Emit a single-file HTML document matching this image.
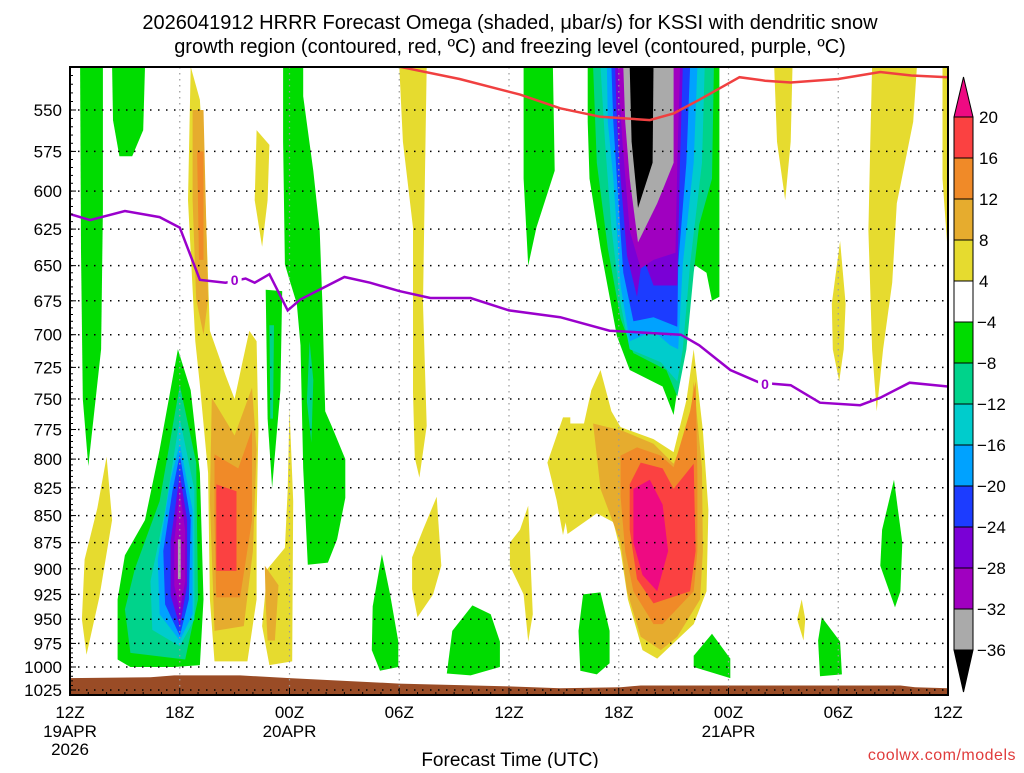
<!DOCTYPE html>
<html><head><meta charset="utf-8"><style>
body{margin:0;background:#fff;width:1024px;height:768px;overflow:hidden}
svg text{font-family:"Liberation Sans",sans-serif}
</style></head><body>
<svg id="chart" width="1024" height="768" xmlns="http://www.w3.org/2000/svg">
<text x="510" y="29" text-anchor="middle" font-size="20">2026041912 HRRR Forecast Omega (shaded, μbar/s) for KSSI with dendritic snow</text>
<text x="510" y="53" text-anchor="middle" font-size="20">growth region (contoured, red, ºC) and freezing level (contoured, purple, ºC)</text>
<g id="fills"></g>
<g id="grid"></g>
<g id="lines"></g>
<g id="axes"></g>
<g id="cbar"></g>
<text x="510" y="766" text-anchor="middle" font-size="19">Forecast Time (UTC)</text>
<text x="1016" y="760" text-anchor="end" font-size="16" fill="#e03c3c" letter-spacing="0.5">coolwx.com/models</text>
</svg>
<script>
const NS="http://www.w3.org/2000/svg";
const levels=[550,575,600,625,650,675,700,725,750,775,800,825,850,875,900,925,950,975,1000,1025];
const timeLabels=["12Z","18Z","00Z","06Z","12Z","18Z","00Z","06Z","12Z"];
const dateLabels={0:["19APR","2026"],12:["20APR"],36:["21APR"]};
const freezeHours=[0,1.1,3,4.9,6,7.1,8.5,9.6,10.1,10.9,11.9,12.6,15,16.4,18,19.7,21.9,24,26.8,29.5,33.4,34.4,36.1,37.7,39.4,41,43.2,44.3,45.9,48];
const freezeP=[615,619,613,617,624,660,662,659,662,656,682,674,658,662,668,673,673,682,687,697,700,708,727,737,739,753,755,749,737,740];
const dgzHours=[18,21.3,24.6,26.8,29,31.7,33,34.4,36.6,38,39.4,42,44.3,46,48];
const dgzP=[525,532,541,549,554,556,552,544,531,533,534,532,528,530,531];
const sfcHours=[0,4.4,5.7,9.3,12,18,24,26.8,30.1,31.2,45.4,46.2,48];
const sfcP=[1012,1011,1009,1009,1012,1018,1021,1023,1022,1020,1020,1022,1023];
const cbarLabels=["20","16","12","8","4","−4","−8","−12","−16","−20","−24","−28","−32","−36"];
const cbarColors=["#fb4141","#f08a28","#e6ac2e","#e6db2f","#ffffff","#00dc00","#00d38b","#00cccc","#00a2ff","#1c3cff","#7a00d6","#a000c0","#aaaaaa"];
const C={Y:"#e6db2f",Gd:"#e6ac2e",O:"#f08a28",R:"#fb4141",M:"#ee0a82",G:"#00dc00",T:"#00d38b",Cy:"#00cccc",B:"#00a2ff",DB:"#1c3cff",P:"#7a00d6",PM:"#a000c0",Gr:"#aaaaaa",K:"#000000"};
const blobs=[
["G",[[0.55,525],[1.8,525],[1.8,612],[1.7,711],[1.0,806],[0.7,750],[0.6,640]]],
["G",[[2.3,525],[4.1,525],[4.0,562],[3.4,578],[2.7,578],[2.35,556]]],
["Y",[[2.0,798],[2.3,854],[1.6,928],[0.9,987],[0.65,950],[0.8,891],[1.5,843]]],
["G",[[5.9,711],[6.6,743],[7.1,812],[7.3,930],[7.1,998],[5.7,1000],[3.3,1000],[2.6,992],[2.6,930],[3.0,887],[4.1,854],[4.9,792]]],
["T",[[6,739],[6.9,803],[7.0,930],[6.3,992],[3.3,985],[3.0,940],[3.55,900],[4.9,837]]],
["Cy",[[6,766],[6.8,827],[6.8,950],[6,978],[4.5,961],[4.4,912],[5.2,845]]],
["B",[[6,787],[6.7,845],[6.7,945],[6,972],[4.9,945],[4.8,891],[5.5,818]]],
["DB",[[6,796],[6.6,854],[6.5,930],[6,967],[5.2,935],[5.1,883],[5.6,828]]],
["P",[[6,813],[6.4,854],[6.4,916],[6,957],[5.5,926],[5.5,874]]],
["PM",[[6,827],[6.3,864],[6.3,912],[6,942],[5.7,916],[5.7,874]]],
["Gr",[[5.9,872],[6.05,872],[6.05,910],[5.9,910]]],
["Y",[[6.6,525],[7.1,544],[7.4,606],[7.65,697],[8.5,731],[9.0,750],[9.4,723],[9.8,697],[10.2,705],[10.3,775],[10.2,854],[10.2,930],[9.7,994],[7.9,994],[7.65,930],[7.55,812],[7.1,739],[6.85,705],[6.45,606]]],
["Gd",[[6.7,550],[7.3,550],[7.55,674],[7.3,700],[6.9,674],[6.7,606]]],
["O",[[6.95,575],[7.3,575],[7.3,646],[7.05,646]]],
["Gd",[[7.75,749],[9.0,780],[9.95,741],[10.2,792],[10.0,883],[9.5,957],[7.9,962],[7.65,837]]],
["O",[[7.9,796],[9.2,808],[9.95,775],[9.95,854],[9.3,928],[8.0,928],[7.9,854]]],
["R",[[8.0,822],[9.1,828],[9.1,902],[8.0,902]]],
["Y",[[10.2,562],[10.9,571],[10.8,606],[10.5,637],[10.1,606]]],
["G",[[10.7,667],[11.6,668],[11.5,743],[11.05,825],[10.8,766]]],
["T",[[10.9,693],[11.15,693],[11.1,766],[10.95,766]]],
["Y",[[12,758],[12.2,837],[12.15,994],[10.9,998],[10.5,957],[10.8,900],[11.75,880],[11.9,827]]],
["Gd",[[10.65,897],[11.4,916],[11.2,972],[10.8,972],[10.7,935]]],
["G",[[11.65,525],[12.75,525],[12.75,542],[13.3,587],[13.65,626],[13.8,677],[13.95,760],[14.3,772],[15.05,800],[15.05,834],[14.6,872],[14.1,894],[13.0,896],[12.75,808],[12.6,708],[12.4,677],[12.0,660],[11.75,649],[11.65,569]]],
["T",[[13.1,705],[13.3,735],[13.2,786],[12.95,752]]],
["Y",[[18,525],[19.5,525],[19.4,592],[19.3,677],[19.5,772],[19.1,816],[18.85,799],[18.75,745],[18.75,624],[18.2,569]]],
["Y",[[20.05,833],[20.3,897],[19.85,925],[19.0,948],[18.7,920],[18.7,889],[19.3,863]]],
["G",[[17.05,886],[17.5,925],[17.95,973],[17.95,1000],[16.95,1004],[16.5,982],[16.55,937]]],
["G",[[22,936],[23,945],[23.5,973],[23.5,1000],[21.9,1009],[20.6,1007],[20.9,962]]],
["Y",[[25.05,841],[25.3,945],[25.05,973],[24.8,925],[24.05,897],[24.05,875],[24.6,863]]],
["G",[[24.8,525],[26.4,525],[26.5,587],[25.5,624],[25.05,650],[24.8,592]]],
["Y",[[26.95,765],[27.35,765],[27.35,836],[26.95,868],[26.6,836],[26.1,803]]],
["Y",[[29.0,727],[29.6,760],[30.1,773],[31.9,783],[33.0,794],[33.7,751],[34.1,711],[34.6,776],[34.9,845],[34.8,922],[34.1,955],[32.1,991],[31.3,982],[30.5,930],[30.1,883],[29.7,856],[28.8,848],[27.2,867],[26.8,826],[26.2,803],[27.0,770],[28.1,770],[28.5,743]]],
["Gd",[[28.6,770],[30.2,776],[31.9,787],[33.0,804],[33.9,770],[34.1,736],[34.55,808],[34.6,883],[34.45,930],[33.2,968],[32.3,982],[31.2,968],[30.45,922],[30.1,875],[29.0,826]]],
["O",[[30.1,797],[31.0,790],[32.3,797],[33.0,807],[33.9,760],[34.2,736],[34.3,813],[34.3,883],[34.1,922],[32.4,955],[31.9,955],[30.8,922],[30.35,883],[30.1,833]]],
["R",[[30.6,822],[31.2,803],[32.4,808],[33.0,826],[34.1,804],[34.2,883],[33.9,922],[31.9,934],[31.0,910],[30.6,863]]],
["M",[[30.8,826],[31.7,818],[32.4,840],[32.7,883],[32.1,922],[31.3,906],[30.8,875]]],
["G",[[28.3,525],[35.5,525],[35.5,672],[35.1,675],[34.8,655],[34.1,649],[33.7,682],[33.5,714],[33.0,763],[32.4,740],[30.6,727],[29.9,701],[29.0,638],[28.4,592],[28.3,557]]],
["T",[[28.6,525],[35.2,525],[35.1,592],[34.4,622],[34.1,655],[33.7,711],[33.2,748],[32.6,727],[30.8,714],[30.1,688],[29.4,638],[28.8,582]]],
["Cy",[[29.0,525],[34.7,525],[34.55,582],[33.9,649],[33.5,711],[33.2,736],[32.3,721],[30.6,711],[30.1,677],[29.6,624],[29.25,569]]],
["B",[[29.35,525],[34.3,525],[34.1,582],[33.5,649],[33.25,711],[32.8,708],[31.9,697],[30.6,705],[30.1,664],[29.7,592],[29.4,557]]],
["DB",[[29.6,525],[33.9,525],[33.7,582],[33.25,649],[33.2,694],[31.9,687],[30.8,690],[30.25,655],[29.9,592],[29.7,557]]],
["P",[[29.8,525],[33.5,525],[33.35,582],[33.2,664],[32.6,664],[31.9,664],[31.3,643],[31.0,672],[30.45,643],[30.1,592],[29.9,557]]],
["PM",[[29.95,525],[33.35,525],[33.2,582],[33.1,641],[31.9,646],[31.2,652],[30.6,626],[30.2,569]]],
["Gr",[[30.25,525],[33.0,525],[33.0,582],[32.1,608],[31.05,634],[30.6,592],[30.35,557]]],
["K",[[30.6,525],[31.9,525],[31.85,582],[31.05,611],[30.7,569]]],
["G",[[28.05,925],[29.0,923],[29.5,962],[29.5,996],[28.8,1008],[27.9,1004],[27.8,962]]],
["G",[[35.1,965],[36.1,991],[36.1,1012],[34.1,1000],[34.1,988]]],
["Y",[[38.5,525],[39.5,525],[39.4,569],[39.1,606],[38.65,569]]],
["Y",[[40.0,930],[40.2,950],[40.1,972],[39.75,950]]],
["G",[[41.1,948],[42.1,973],[42.2,1008],[41.0,1010],[40.9,972]]],
["Y",[[42.1,633],[42.4,677],[42.3,711],[42.05,736],[41.7,711],[41.65,677]]],
["G",[[45.05,818],[45.5,875],[45.4,922],[45.1,938],[44.3,897],[44.4,863]]],
["Y",[[43.85,525],[46.3,525],[46.1,557],[45.2,608],[44.95,662],[44.45,711],[44.1,760],[43.85,711],[43.65,626],[43.75,569]]],
["Y",[[47.7,525],[48,525],[48,643],[47.9,626],[47.7,592]]]
];
const X0=70,X1=948,Y0=67,Y1=695;
function xs(h){return X0+(X1-X0)*h/48;}
function ys(p){return 110+931.7*Math.log(p/550);}
function mk(tag,attrs,parent){const e=document.createElementNS(NS,tag);for(const k in attrs)e.setAttribute(k,attrs[k]);parent.appendChild(e);return e;}
const fills=document.getElementById('fills');
const clip=mk('clipPath',{id:'pc'},document.getElementById('chart'));
mk('rect',{x:X0,y:Y0,width:X1-X0,height:Y1-Y0},clip);
fills.setAttribute('clip-path','url(#pc)');
blobs.forEach((b,i)=>{
  const pts=b[1].map(q=>xs(q[0]).toFixed(1)+","+ys(q[1]).toFixed(1)).join(" ");
  const el=mk('polygon',{points:pts,fill:C[b[0]]},fills);
  
  
});
{let d="M"+xs(0)+","+Y1;sfcHours.forEach((h,i)=>{d+=" L"+xs(h).toFixed(1)+","+ys(sfcP[i]).toFixed(1);});d+=" L"+xs(48)+","+Y1+" Z";
const el=mk('path',{d:d,fill:"#9a4c26"},fills);

}
const grid=document.getElementById('grid');
levels.forEach(p=>{const y=ys(p);
  const el=mk('line',{x1:X0,x2:X1,y1:y,y2:y,stroke:"#000","stroke-width":1.5,"stroke-dasharray":"1.5 6.5"},grid);
  
  });
for(let h=6;h<48;h+=6){const x=xs(h);
  const el=mk('line',{x1:x,x2:x,y1:Y0,y2:Y1,stroke:"#999","stroke-width":1.2,"stroke-dasharray":"1.5 4.5"},grid);
  
  }
const lines=document.getElementById('lines');
lines.setAttribute('clip-path','url(#pc)');
function poly(hs,ps){return hs.map((h,i)=>xs(h).toFixed(1)+","+ys(ps[i]).toFixed(1)).join(" ");}
{const el=mk('polyline',{points:poly(dgzHours,dgzP),fill:"none",stroke:"#f04040","stroke-width":2.5},lines);

}
{const el=mk('polyline',{points:poly(freezeHours,freezeP),fill:"none",stroke:"#9a00cc","stroke-width":2.5},lines);

}
[[9.0,660],[38.0,738]].forEach((q,i)=>{const x=xs(q[0]),y=ys(q[1]);
  const r=mk('rect',{x:x-7,y:y-8,width:14,height:16,fill:"#fff"},lines);
  
  
  const t=mk('text',{x:x,y:y+5,"text-anchor":"middle","font-size":14,"font-weight":"bold",fill:"#9a00cc"},lines);
  t.textContent="0";
  
  });
const axes=document.getElementById('axes');
{const el=mk('rect',{x:X0,y:Y0,width:X1-X0,height:Y1-Y0,fill:"none",stroke:"#000","stroke-width":2},axes);

}
levels.forEach(p=>{const y=ys(p);
  const t=mk('text',{x:62,y:y+6,"text-anchor":"end","font-size":17},axes);t.textContent=p;
  
  
  mk('line',{x1:X0,x2:X0+6,y1:y,y2:y,stroke:"#000","stroke-width":1},axes);});
for(let p=530;p<=1030;p+=5){const y=ys(p);if(y<Y0||y>Y1)continue;mk('line',{x1:X0,x2:X0+3,y1:y,y2:y,stroke:"#000","stroke-width":1},axes);}
for(let h=0;h<=48;h++){const x=xs(h);mk('line',{x1:x,x2:x,y1:Y1,y2:Y1-(h%6?3:7),stroke:"#000","stroke-width":1},axes);}
timeLabels.forEach((lab,i)=>{const h=i*6,x=xs(h);
  const t=mk('text',{x:x,y:718,"text-anchor":"middle","font-size":17},axes);t.textContent=lab;
  
  
  (dateLabels[h]||[]).forEach((s,j)=>{const d=mk('text',{x:x,y:737+j*18,"text-anchor":"middle","font-size":17},axes);d.textContent=s;
    
    });});
const cb=document.getElementById('cbar');
const cx=954,cw=19,cTop=117,bh=41;
{const el=mk('polygon',{points:`${cx},${cTop} ${cx+cw},${cTop} ${cx+cw/2},${cTop-40}`,fill:"#ee0a82",stroke:"#000","stroke-width":1},cb);

}
cbarColors.forEach((c,i)=>{const el=mk('rect',{x:cx,y:cTop+i*bh,width:cw,height:bh,fill:c,stroke:"#000","stroke-width":1},cb);
  
  });
{const yb=cTop+cbarColors.length*bh;const el=mk('polygon',{points:`${cx},${yb} ${cx+cw},${yb} ${cx+cw/2},${yb+42}`,fill:"#000",stroke:"#000","stroke-width":1},cb);

}
cbarLabels.forEach((l,i)=>{const t=mk('text',{x:l.startsWith("−")?977:979,y:cTop+i*bh+6,"font-size":17},cb);t.textContent=l;
  
  });
</script>
</body></html>
